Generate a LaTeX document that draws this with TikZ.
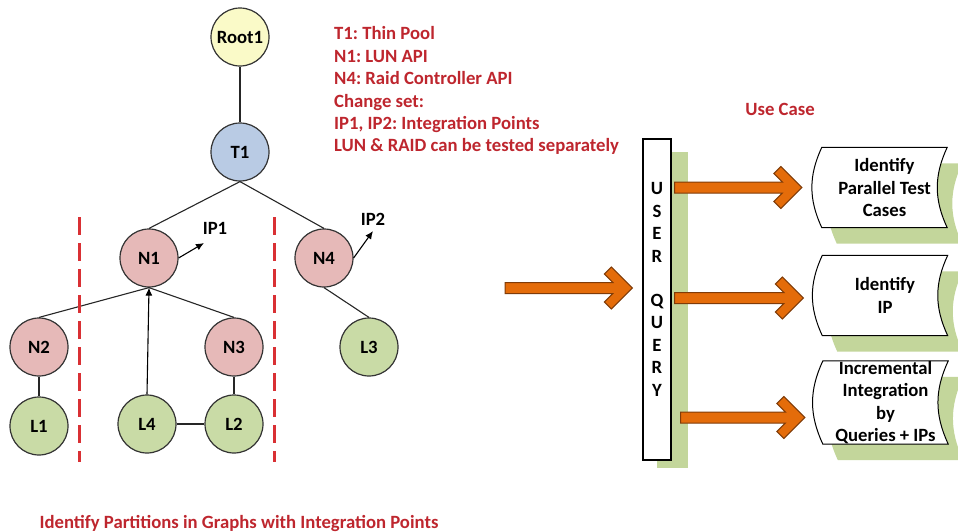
\documentclass[tikz,border=0pt]{standalone}
\usepackage{fontspec}
\setmainfont{Carlito}
\usepackage{xcolor}
\usetikzlibrary{calc,arrows.meta,backgrounds}
\frenchspacing

\definecolor{rootfill}{HTML}{FAFAC8}
\definecolor{poolfill}{HTML}{B9CBE4}
\definecolor{apifill}{HTML}{E6B9B8}
\definecolor{leaffill}{HTML}{C9DBA6}
\definecolor{notered}{RGB}{190,38,46}
\definecolor{partred}{RGB}{217,48,52}
\definecolor{shadowgreen}{HTML}{C3D69B}
\definecolor{arroworange}{HTML}{E46C0A}
\definecolor{arrowedge}{HTML}{7F3B08}

\tikzset{
    vertex/.style={circle, draw=black!80, line width=1.2pt, minimum size=58, inner sep=0pt},
    root/.style={vertex, fill=rootfill},
    pool/.style={vertex, fill=poolfill},
    api/.style={vertex, fill=apifill},
    leaf/.style={vertex, fill=leaffill},
    link/.style={line width=1.1pt, black!85},
    ipline/.style={line width=1.1pt, -{Latex[length=8pt,width=7pt]}},
    partition/.style={partred, line width=3pt, dash pattern=on 18pt off 8pt},
    note/.style={notered, align=left, inner sep=0pt},
    querybox/.style={draw, line width=1.2pt, fill=white, minimum width=28, minimum height=321, inner sep=0pt},
    storebox/.style={align=center, minimum width=125, minimum height=80, inner sep=0pt},
    fatarrow/.style={fill=arroworange, draw=arrowedge, line width=1pt, line join=miter}
}

% outline of a "stored data" box, moved by #2
\newcommand{\storedpath}[2]{($(#1.north west)+#2$) to[bend right=25] ($(#1.south west)+#2$)
    -- ($(#1.south east)+#2$) to[bend left=25] ($(#1.north east)+#2$) -- cycle}

% orange block arrow with an open chevron head, #1 = tail, #2 = tip
\newcommand{\blockarrow}[2]{%
    \draw[fatarrow] ($(#1)+(0,-5.5)$) -- ($(#2)+(-19.5,-5.5)$) -- ($(#2)+(-28,-14)$)
        -- ($(#2)+(-21,-21)$) -- (#2) -- ($(#2)+(-21,21)$) -- ($(#2)+(-28,14)$)
        -- ($(#2)+(-19.5,5.5)$) -- ($(#1)+(0,5.5)$) -- cycle;}

\begin{document}
\begin{tikzpicture}[x=1pt, y=-1pt, font=\fontsize{18.7}{22.4}\selectfont\bfseries]
    \useasboundingbox (0,0) rectangle (958,531);

    % graph
    \node[root] (r1) at (240,37) {Root1};
    \node[pool] (t1) at (240,152) {T1};
    \node[api] (n1) at (149,258) {N1};
    \node[api] (n4) at (324,258) {N4};
    \node[api] (n2) at (39,347) {N2};
    \node[api] (n3) at (234,347) {N3};
    \node[leaf] (l3) at (369,347) {L3};
    \node[leaf] (l1) at (39,426) {L1};
    \node[leaf] (l4) at (147,424) {L4};
    \node[leaf] (l2) at (234,424) {L2};

    \draw[link] (r1.south) -- (t1.north);
    \draw[link] (t1.south) -- (n1.north);
    \draw[link] (t1.south) -- (n4.north);
    \draw[link] (n1.south) -- (n2.north);
    \draw[link] (n1.south) -- (n3.north);
    \draw[link] (n4.south) -- (l3.north);
    \draw[link] (n2) -- (l1);
    \draw[link] (n3) -- (l2);
    \draw[link] (l4) -- (l2);
    \draw[ipline] (l4.north) -- (n1.south);

    % integration points
    \coordinate (ip1) at (204,243);
    \coordinate (ip2) at (373,231);
    \draw[ipline] (n1.east) -- (ip1);
    \draw[ipline] (n4.east) -- (ip2);
    \node at (215,228) {IP1};
    \node at (373,219) {IP2};

    % partitions
    \draw[partition] (79,217) -- (79,462);
    \draw[partition] (274,217) -- (274,462);

    \node[note, anchor=north west] at (334,26.5) {T1: Thin Pool\\N1: LUN API\\N4: Raid Controller API\\Change set:\\IP1, IP2: Integration Points\\LUN \& RAID can be tested separately};
    \node[note, anchor=base] (title) at (239,528) {Identify Partitions in Graphs with Integration Points};

    % use case side
    \node[note, anchor=base] (uc) at (780,115) {Use Case};
    \node[querybox] (uq) at (657,299.5) {};
    \node[align=center, inner sep=0pt] at ($(uq.center)+(0,-10)$) {U\\S\\E\\R\\[22pt]Q\\U\\E\\R\\Y};

    \node[storebox] (pt) at (884.5,187.5) {Identify\\Parallel Test\\Cases};
    \node[storebox] (ip) at (885,295.5) {Identify\\IP};
    \node[storebox] (ii) at (885.5,402.5) {Incremental\\Integration\\by\\Queries + IPs};

    \begin{scope}[on background layer]
        \fill[shadowgreen] ($(uq.north west)+(15,14)$) rectangle ($(uq.south east)+(16,7)$);
        \foreach \b in {pt,ip,ii} {
            \fill[shadowgreen] \storedpath{\b}{(15,16)};
            \draw[fill=white, line width=1pt] \storedpath{\b}{(0,0)};
        }
    \end{scope}

    \coordinate (qin) at (505,288);
    \coordinate (qtip) at ($(uq.west |- qin)+(-10,0)$);
    \coordinate (a1) at ($(uq.east |- pt.west)+(3,0)$);
    \coordinate (a1tip) at ($(pt.west)+(-20,0)$);
    \coordinate (a2) at ($(uq.east |- ip.west)+(3,2.5)$);
    \coordinate (a2tip) at ($(ip.west)+(-19,2.5)$);
    \coordinate (a3) at ($(uq.east |- ii.west)+(9,15)$);
    \coordinate (a3tip) at ($(ii.west)+(-18,15)$);
    \blockarrow{qin}{qtip}
    \blockarrow{a1}{a1tip}
    \blockarrow{a2}{a2tip}
    \blockarrow{a3}{a3tip}
\end{tikzpicture}
\end{document}
